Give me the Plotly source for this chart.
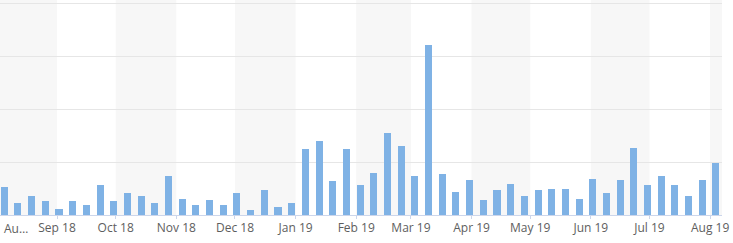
import plotly.graph_objects as go
import pandas as pd

# weekly buckets
week_start = "2018-08-05"
n_weeks = 53
values = [5.2, 2.3, 3.5, 2.6, 1.1, 2.6, 1.9, 5.7, 2.6, 4.2, 3.5, 2.3, 7.3,
          3.0, 1.9, 2.8, 1.9, 4.2, 0.9, 4.7, 1.6, 2.3, 12.5, 13.9, 6.4, 12.5,
          5.7, 8.0, 15.5, 13.0, 7.4, 32.1, 7.7, 4.4, 6.6, 2.8, 4.7, 5.9, 3.5,
          4.7, 4.9, 4.9, 3.0, 6.8, 4.2, 6.6, 12.7, 5.7, 7.4, 5.7, 3.5, 6.6, 9.9]

tick_dates = ["2018-09-01", "2018-10-01", "2018-11-01", "2018-12-01",
              "2019-01-01", "2019-02-01", "2019-03-01", "2019-04-01",
              "2019-05-01", "2019-06-01", "2019-07-01", "2019-08-01"]
tick_labels = ["Sep 18", "Oct 18", "Nov 18", "Dec 18", "Jan 19", "Feb 19",
               "Mar 19", "Apr 19", "May 19", "Jun 19", "Jul 19", "Aug 19"]
first_label = "Au…"

x_start = "2018-08-02 19:50"
x_end = "2019-08-07 02:00"

# shaded (alternate) month bands
band_starts = [x_start, "2018-10-01", "2018-12-01", "2019-02-01", "2019-04-01", "2019-06-01", "2019-08-01"]
band_ends = ["2018-09-01", "2018-11-01", "2019-01-01", "2019-03-01", "2019-05-01", "2019-07-01", x_end]

dates = pd.date_range(week_start, periods=n_weeks, freq="7D")

fig = go.Figure()
fig.add_trace(go.Bar(
    x=dates, y=values,
    width=3.6 * 86400000,
    marker=dict(color="#7fb2e5", line=dict(width=0)),
    hoverinfo="x+y",
))

shapes = []
for s, e in zip(band_starts, band_ends):
    shapes.append(dict(type="rect", xref="x", yref="paper", x0=s, x1=e, y0=0, y1=1,
                       fillcolor="#f7f7f7", line=dict(width=0), layer="below"))

label_font = dict(family="Open Sans", size=12, color="#5e5e5e")

fig.update_layout(
    width=733, height=243,
    margin=dict(l=0, r=11, t=0, b=28),
    paper_bgcolor="white", plot_bgcolor="white",
    showlegend=False,
    bargap=0,
    shapes=shapes,
    font=label_font,
    xaxis=dict(
        type="date",
        range=[x_start, x_end],
        tickvals=tick_dates, ticktext=tick_labels,
        ticks="outside", ticklen=3, tickcolor="#ccd6eb",
        ticklabelstandoff=-1,
        showline=True, linecolor="#ccd6eb", linewidth=1,
        showgrid=False, zeroline=False,
        tickfont=label_font,
    ),
    yaxis=dict(
        range=[0, 40.57],
        tickvals=[10, 20, 30, 40],
        showticklabels=False,
        showgrid=True, gridcolor="#e6e6e6", gridwidth=1,
        zeroline=False, showline=False,
    ),
    annotations=[dict(text=first_label, xref="paper", yref="paper",
                      x=15.5 / 722, y=0, yshift=-3, xanchor="center", yanchor="top",
                      showarrow=False, font=label_font)],
)

fig.write_html("out.html")
